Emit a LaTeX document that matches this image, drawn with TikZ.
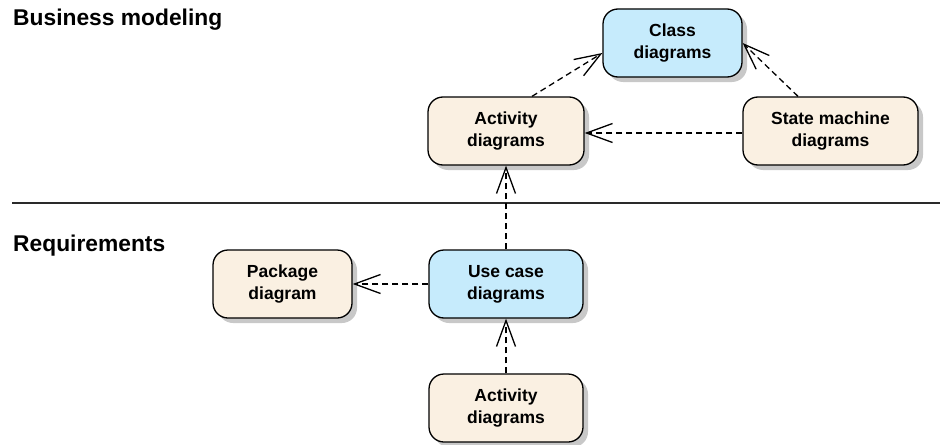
\documentclass[tikz,border=0pt]{standalone}
\usepackage{fontspec}
\setmainfont{Liberation Sans}
\usetikzlibrary{arrows.meta,shadows,calc}
\definecolor{bluefill}{HTML}{C6EBFC}
\definecolor{beigefill}{HTML}{FAF0E2}
\definecolor{shadowgray}{HTML}{C8C8C8}
\definecolor{sepline}{HTML}{2A2A2A}
\tikzset{
  diag/.style={draw=black, line width=1.3pt, rounded corners=15pt, align=center,
    inner sep=0pt, minimum height=68pt,
    font=\fontsize{17.5}{22}\selectfont\bfseries,
    drop shadow={shadow xshift=5pt, shadow yshift=-5pt, fill=shadowgray, opacity=1}},
  bluebox/.style={diag, fill=bluefill},
  beigebox/.style={diag, fill=beigefill},
  dep/.style={draw=black, line width=1.3pt, dash pattern=on 6pt off 4pt,
    -{Straight Barb[length=26pt,width=19pt,line width=1.3pt]}},
  heading/.style={anchor=base west, inner sep=0pt, font=\fontsize{22.8}{27}\selectfont\bfseries}
}
\begin{document}
\begin{tikzpicture}[x=1pt,y=-1pt]
\useasboundingbox (0,0) rectangle (941,444);
\node[heading] (hbm) at (13,26) {Business modeling};
\node[heading] (hreq) at (13,251) {Requirements};
\coordinate (sl) at (12,203);
\coordinate (sr) at (940,203);
\draw[sepline, line width=1.4pt] (sl) -- (sr);

\node[bluebox, minimum width=139pt] (class) at (672.5,43) {Class\\diagrams};
\node[beigebox, minimum width=156pt] (acttop) at (506,131) {Activity\\diagrams};
\node[beigebox, minimum width=175pt] (state) at (830.5,131) {State machine\\diagrams};
\node[bluebox, minimum width=154pt] (usecase) at (506,284) {Use case\\diagrams};
\node[beigebox, minimum width=139pt] (package) at (282.5,284) {Package\\diagram};
\node[beigebox, minimum width=154pt] (actbot) at (506,408) {Activity\\diagrams};

\draw[dep] ([xshift=26pt]acttop.north) -- ([yshift=-10pt]class.west);
\draw[dep] ([xshift=-32.5pt]state.north) -- (class.east);
\draw[dep] ([yshift=-2pt]state.west) -- ([yshift=-2pt]acttop.east);
\draw[dep] (usecase.north) -- (acttop.south);
\draw[dep] (usecase.west) -- (package.east);
\draw[dep] (actbot.north) -- (usecase.south);
\end{tikzpicture}
\end{document}
